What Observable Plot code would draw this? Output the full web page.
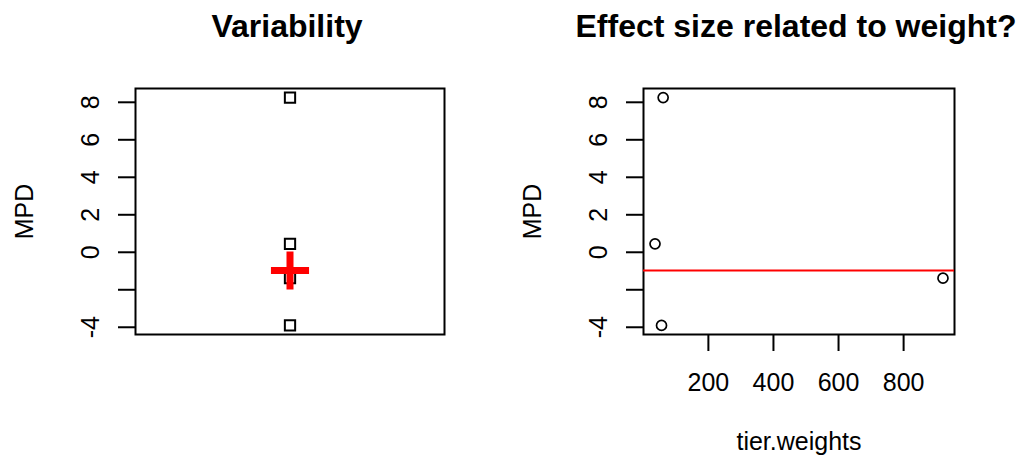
<!DOCTYPE html>
<html>
<head>
<meta charset="utf-8">
<script src="https://cdn.jsdelivr.net/npm/d3@7"></script>
<script src="https://cdn.jsdelivr.net/npm/@observablehq/plot@0.6"></script>
<style>
  html, body { margin: 0; padding: 0; background: white; }
  #wrap { display: flex; width: 1018px; height: 463px; overflow: hidden; }
  #wrap svg { overflow: visible; }
</style>
</head>
<body>
<div id="wrap"></div>
<script>
// ---- data ----
const tierWeights = [61, 36, 921, 56];
const mpd = [8.25, 0.45, -1.38, -3.9];
const weightedMeanMPD = -0.97;
const yTicks = [-4, -2, 0, 2, 4, 6, 8];
const yTickLabels = ["-4", "", "0", "2", "4", "6", "8"];
const xTicks = [200, 400, 600, 800];
const xTickLabels = ["200", "400", "600", "800"];
const titles = ["Variability", "Effect size related to weight?"];
const yLabel = "MPD";
const xLabel = "tier.weights";

// ---- helpers ----
const rows = tierWeights.map((w, i) => ({w, mpd: mpd[i]}));
const ext = (arr) => {
  const [a, b] = d3.extent(arr);
  const p = (b - a) * 0.04;
  return [a - p, b + p];
};
const yDomain = ext(mpd);
const xDomain = ext(tierWeights);
const yLab = new Map(yTicks.map((t, i) => [t, yTickLabels[i]]));
const xLab = new Map(xTicks.map((t, i) => [t, xTickLabels[i]]));
const FONT = "'Liberation Sans', Arial, Helvetica, sans-serif";

function yAxisMarks() {
  return [
    Plot.axisY(yTicks, {
      tickSize: 17, tickPadding: 20, tickRotate: -90,
      tickFormat: d => yLab.get(d), fontSize: 25, strokeWidth: 2,
      fill: "black", stroke: "black", label: null
    }),
    Plot.text([yLabel], {
      frameAnchor: "left", dx: -111, rotate: -90,
      textAnchor: "middle", lineAnchor: "middle", fontSize: 25, fill: "black"
    })
  ];
}

function titleMark(t) {
  return Plot.text([t], {
    frameAnchor: "top", dy: -52, dx: -3, lineAnchor: "bottom",
    textAnchor: "middle", fontSize: 32, fontWeight: "bold", fill: "black"
  });
}

// ---- left panel: Variability ----
const left = Plot.plot({
  width: 509, height: 463,
  marginLeft: 135, marginRight: 65, marginTop: 88, marginBottom: 129,
  style: {fontFamily: FONT, background: "white", overflow: "visible"},
  x: {domain: [0, 2], axis: null},
  y: {domain: yDomain, axis: null},
  marks: [
    Plot.frame({stroke: "black", strokeWidth: 2}),
    ...yAxisMarks(),
    Plot.dot(rows, {x: () => 1, y: "mpd", symbol: "square", r: 5.8,
      fill: "none", stroke: "black", strokeWidth: 2}),
    Plot.dot([weightedMeanMPD], {x: () => 1, y: d => d, symbol: "plus", r: 12.3,
      stroke: "red", strokeWidth: 7}),
    titleMark(titles[0])
  ]
});

// ---- right panel: Effect size related to weight? ----
const right = Plot.plot({
  width: 509, height: 463,
  marginLeft: 134, marginRight: 64, marginTop: 88, marginBottom: 129,
  style: {fontFamily: FONT, background: "white", overflow: "visible"},
  x: {domain: xDomain, axis: null},
  y: {domain: yDomain, axis: null},
  marks: [
    Plot.frame({stroke: "black", strokeWidth: 2}),
    ...yAxisMarks(),
    Plot.axisX(xTicks, {
      tickSize: 17, tickPadding: 22, tickFormat: d => xLab.get(d),
      fontSize: 25, strokeWidth: 2, fill: "black", stroke: "black", label: null
    }),
    Plot.text([xLabel], {
      frameAnchor: "bottom", dy: 98, lineAnchor: "top",
      textAnchor: "middle", fontSize: 25, fill: "black"
    }),
    Plot.ruleY([weightedMeanMPD], {stroke: "red", strokeWidth: 2}),
    Plot.dot(rows, {x: "w", y: "mpd", symbol: "circle", r: 5,
      fill: "none", stroke: "black", strokeWidth: 1.7}),
    titleMark(titles[1])
  ]
});

const wrap = document.getElementById("wrap");
wrap.appendChild(left);
wrap.appendChild(right);
</script>
</body>
</html>
